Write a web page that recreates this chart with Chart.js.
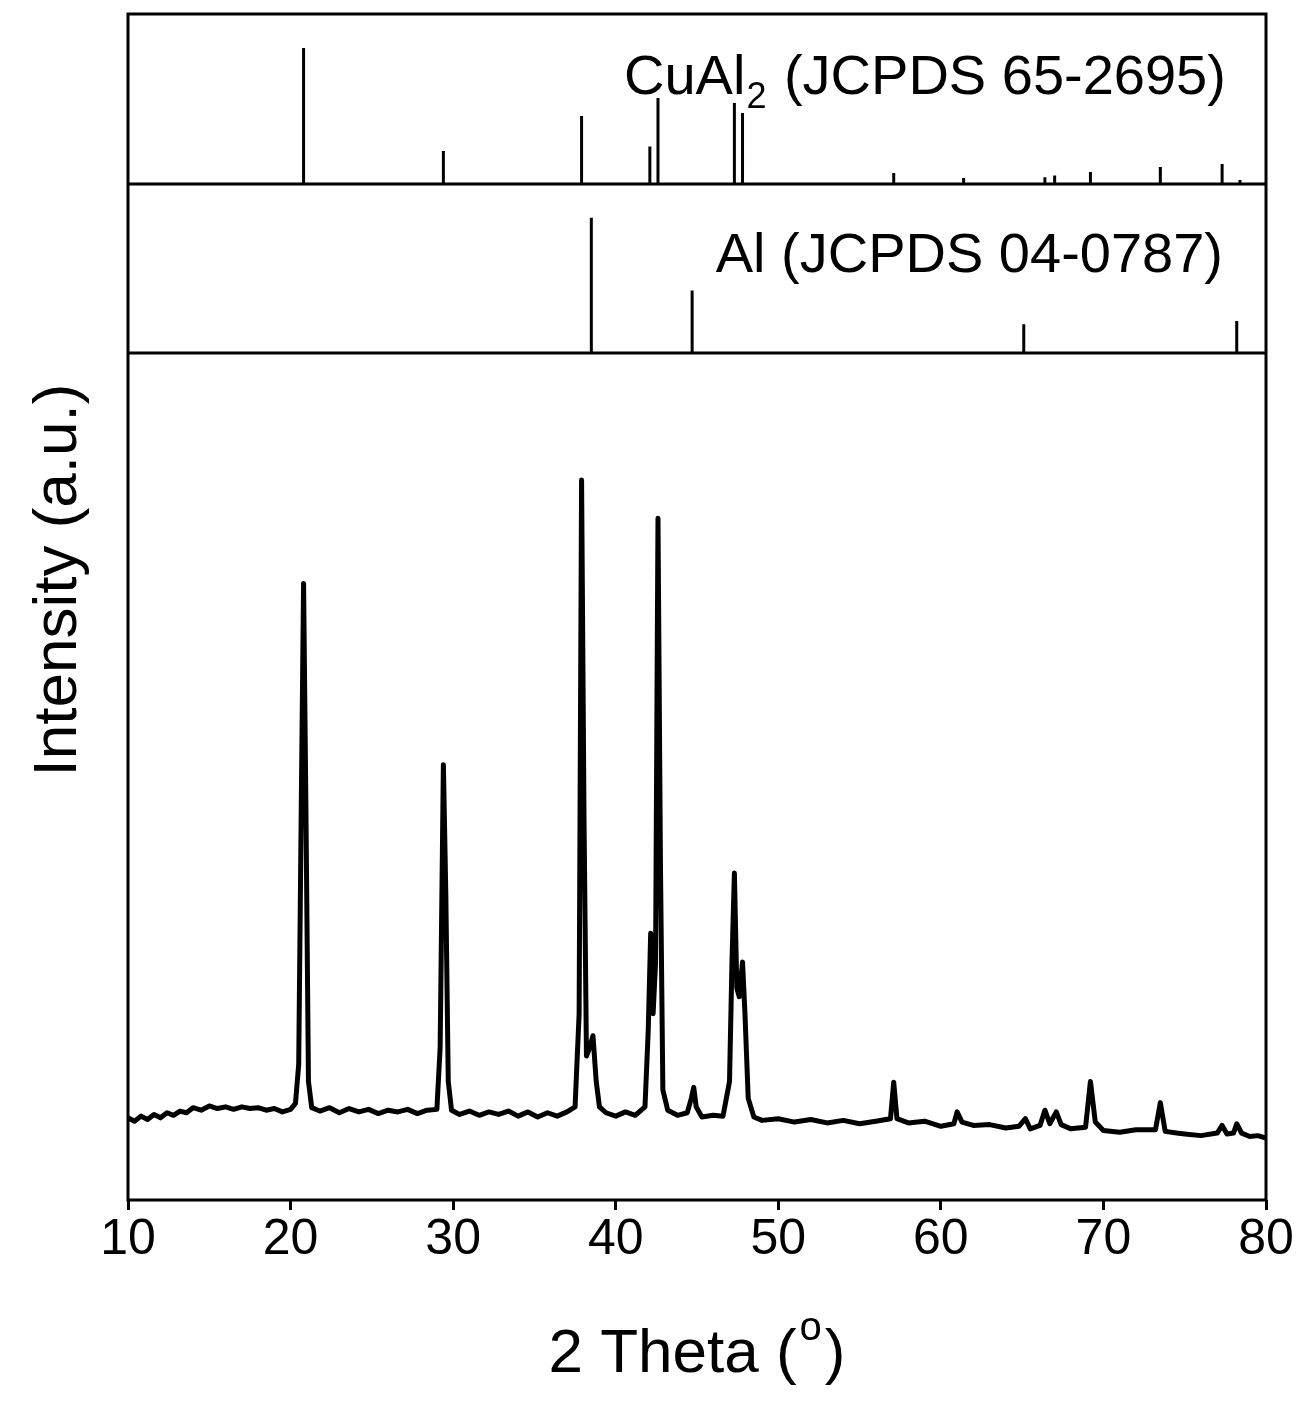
<!DOCTYPE html>
<html>
<head>
<meta charset="utf-8">
<script src="https://cdn.jsdelivr.net/npm/chart.js@4.4.0/dist/chart.umd.min.js"></script>
<style>
  html, body { margin: 0; padding: 0; background: #fff; }
  #wrap { width: 1314px; height: 1419px; position: relative; }
</style>
</head>
<body>
<div id="wrap"><canvas id="xrd" width="1314" height="1419"></canvas></div>
<script>
// measured pattern (2 theta, intensity a.u.)
const patternX = [10, 10.4, 10.8, 11.2, 11.6, 12, 12.4, 12.8, 13.2, 13.6, 14, 14.5, 15, 15.5, 16, 16.5, 17, 17.5, 18, 18.5, 19, 19.5, 20, 20.3, 20.5, 20.65, 20.8, 20.95, 21.1, 21.3,
  21.8, 22.4, 23, 23.6, 24.2, 24.8, 25.4, 26, 26.6, 27.2, 27.8, 28.4, 29.0, 29.2, 29.4, 29.55, 29.7, 29.9, 30.4, 31, 31.6, 32.2, 32.8, 33.4, 34, 34.6, 35.2, 35.8, 36.4, 37, 37.5, 37.75, 37.9, 38.05, 38.2, 38.4, 38.6, 38.8, 39.0,
  39.4, 40, 40.6, 41.2, 41.8, 42.0, 42.15, 42.3, 42.45, 42.6, 42.75, 42.9, 43.2, 43.8, 44.4, 44.65, 44.8, 44.95, 45.3, 46, 46.6, 47.0, 47.15, 47.3, 47.45, 47.6, 47.8, 47.95, 48.15, 48.5,
  49, 50, 51, 52, 53, 54, 55, 56, 56.9, 57.1, 57.3, 58, 59, 60, 60.8, 61, 61.3, 62, 63, 64, 64.8, 65.2, 65.5, 66.1, 66.4, 66.7, 67.1, 67.4, 68,
  68.9, 69.2, 69.5, 70, 71, 72, 73.2, 73.5, 73.8, 74.5, 75, 76, 77, 77.3, 77.6, 78, 78.2, 78.5, 79, 79.5, 80];
const patternY = [9.7, 9.3, 9.9, 9.5, 10.1, 9.7, 10.3, 10.0, 10.5, 10.3, 10.9, 10.6, 11.1, 10.8, 11.0, 10.7, 11.0, 10.8, 10.9, 10.6, 10.8, 10.4, 10.7, 11.4, 16, 45, 72.8, 45, 14, 10.9,
  10.5, 10.9, 10.3, 10.8, 10.4, 10.7, 10.2, 10.6, 10.4, 10.7, 10.2, 10.6, 10.7, 18, 51.4, 36, 14, 10.6, 10.1, 10.5, 10.0, 10.4, 10.1, 10.5, 9.9, 10.4, 9.8, 10.3, 9.9, 10.4, 11, 22, 85, 45, 17, 18, 19.4, 14, 11,
  10.3, 9.9, 10.4, 10.0, 11, 20, 31.5, 22, 28, 80.5, 40, 13, 10.6, 10.0, 10.3, 12, 13.3, 11, 9.8, 10.0, 9.9, 14, 28, 38.6, 25, 24, 28.1, 22, 12, 9.8,
  9.4, 9.6, 9.2, 9.5, 9.1, 9.4, 9.0, 9.3, 9.6, 13.9, 9.6, 9.1, 9.3, 8.7, 9.0, 10.4, 9.2, 8.8, 8.9, 8.5, 8.7, 9.6, 8.4, 8.8, 10.6, 9.0, 10.4, 8.9, 8.4,
  8.6, 14.0, 9.2, 8.2, 8.0, 8.3, 8.3, 11.5, 8.1, 7.9, 7.8, 7.6, 7.9, 8.8, 7.8, 7.9, 9.0, 7.9, 7.5, 7.6, 7.3];

// reference sticks
const cuAl2X = [20.8, 29.4, 37.9, 42.1, 42.6, 47.3, 47.8, 57.1, 61.4, 66.4, 67.0, 69.2, 73.5, 77.3, 78.4];
const cuAl2Y = [80, 19.4, 40, 22, 50.6, 47.6, 41.8, 6.5, 3.5, 4, 5, 7, 10, 11.8, 2.4];
const alX = [38.5, 44.7, 65.1, 78.2];
const alY = [80, 37, 17, 19];
const xTicks = [10, 20, 30, 40, 50, 60, 70, 80];

const FONT = 'Arial, "Liberation Sans", sans-serif';

function sticks(xs, ys) {
  const out = [];
  xs.forEach((x, i) => { out.push({ x, y: 0 }, { x, y: ys[i] }, { x, y: null }); });
  return out;
}

const framePlugin = {
  id: 'frame',
  afterDraw(chart) {
    const { ctx, chartArea: a, scales } = chart;
    ctx.save();
    ctx.strokeStyle = '#000';
    ctx.lineWidth = 3;
    ctx.strokeRect(a.left, a.top, a.right - a.left, a.bottom - a.top);
    [scales.yAl.bottom, scales.yCu.bottom].forEach((yy) => {
      ctx.beginPath(); ctx.moveTo(a.left, yy); ctx.lineTo(a.right, yy); ctx.stroke();
    });
    ctx.fillStyle = '#000';
    ctx.textBaseline = 'alphabetic';
    // CuAl2 label
    ctx.font = `56px ${FONT}`;
    ctx.textAlign = 'left';
    let x = 624, y = 94;
    ctx.fillText('CuAl', x, y); x += ctx.measureText('CuAl').width;
    ctx.font = `36px ${FONT}`;
    ctx.fillText('2', x + 1, y + 14); x += ctx.measureText('2').width + 3;
    ctx.font = `56px ${FONT}`;
    ctx.fillText(' (JCPDS 65-2695)', x, y);
    ctx.textAlign = 'right';
    ctx.fillText('Al (JCPDS 04-0787)', 1223, 272);
    // x title
    ctx.textAlign = 'left';
    const p1 = '2 Theta (', p3 = ')';
    ctx.font = `62px ${FONT}`;
    const w1 = ctx.measureText(p1).width, w3 = ctx.measureText(p3).width;
    ctx.font = `40px ${FONT}`;
    const w2 = ctx.measureText('o').width + 6;
    const sx = 697 - (w1 + w2 + w3) / 2;
    ctx.font = `62px ${FONT}`;
    ctx.fillText(p1, sx, 1372);
    ctx.font = `40px ${FONT}`;
    ctx.fillText('o', sx + w1 + 3, 1340);
    ctx.font = `62px ${FONT}`;
    ctx.fillText(p3, sx + w1 + w2, 1372);
    // y title
    ctx.translate(76, 580);
    ctx.rotate(-Math.PI / 2);
    ctx.textAlign = 'center';
    ctx.fillText('Intensity (a.u.)', 0, 0);
    ctx.restore();
  },
};

const yCommon = {
  type: 'linear', position: 'left', stack: 'panels', min: 0, max: 100,
  ticks: { display: false }, grid: { display: false }, border: { display: false },
  afterFit: (s) => { s.width = 0; },
};

new Chart(document.getElementById('xrd'), {
  type: 'line',
  data: {
    datasets: [
      { data: patternX.map((x, i) => ({ x, y: patternY[i] })), yAxisID: 'y', borderColor: '#000', borderWidth: 5, pointRadius: 0, tension: 0, borderJoinStyle: 'round' },
      { data: sticks(alX, alY), yAxisID: 'yAl', borderColor: '#000', borderWidth: 3, pointRadius: 0, spanGaps: false },
      { data: sticks(cuAl2X, cuAl2Y), yAxisID: 'yCu', borderColor: '#000', borderWidth: 3, pointRadius: 0, spanGaps: false },
    ],
  },
  options: {
    responsive: false,
    animation: false,
    layout: { padding: { left: 128, right: 48, top: 14, bottom: 159 } },
    plugins: { legend: { display: false }, tooltip: { enabled: false } },
    scales: {
      x: {
        type: 'linear', min: 10, max: 80,
        afterBuildTicks: (s) => { s.ticks = xTicks.map((v) => ({ value: v })); },
        ticks: { color: '#000', font: { size: 50, family: FONT }, padding: 0, maxRotation: 0 },
        grid: { drawOnChartArea: false, drawTicks: true, tickLength: 10, color: '#000', lineWidth: 3 },
        border: { display: false },
        afterFit: (s) => { s.height = 60; },
      },
      y: { ...yCommon, stackWeight: 847 },
      yAl: { ...yCommon, stackWeight: 169 },
      yCu: { ...yCommon, stackWeight: 170 },
    },
  },
  plugins: [framePlugin],
});
</script>
</body>
</html>
